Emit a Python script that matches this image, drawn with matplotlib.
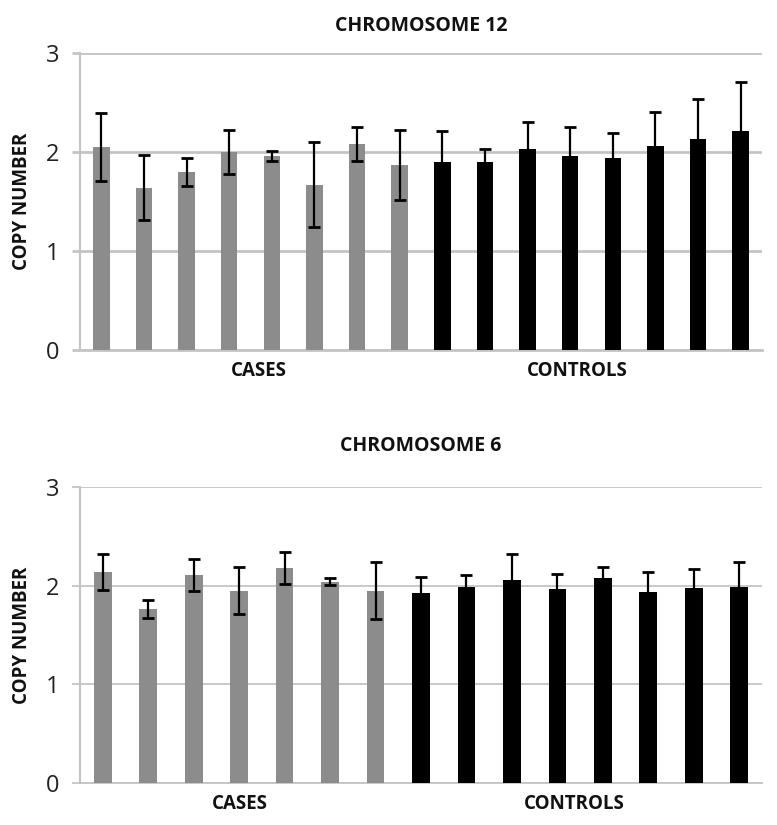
import matplotlib
matplotlib.use("Agg")
import matplotlib.pyplot as plt
import numpy as np

plt.rcParams['font.family'] = ['Open Sans', 'DejaVu Sans']

# ---- data ----
chr12_cases = [2.05, 1.64, 1.80, 2.00, 1.96, 1.67, 2.08, 1.87]
chr12_cases_err = [0.34, 0.33, 0.14, 0.22, 0.055, 0.43, 0.17, 0.35]
chr12_controls = [1.90, 1.90, 2.03, 1.96, 1.94, 2.06, 2.13, 2.21]
chr12_controls_err = [0.31, 0.13, 0.27, 0.29, 0.25, 0.34, 0.41, 0.50]

chr6_cases = [2.14, 1.76, 2.11, 1.95, 2.18, 2.04, 1.95]
chr6_cases_err = [0.185, 0.09, 0.16, 0.24, 0.165, 0.035, 0.285]
chr6_controls = [1.925, 1.99, 2.06, 1.97, 2.08, 1.94, 1.98, 1.99]
chr6_controls_err = [0.16, 0.12, 0.26, 0.15, 0.11, 0.20, 0.19, 0.25]

group_labels = ["CASES", "CONTROLS"]
titles = ["CHROMOSOME 12", "CHROMOSOME 6"]
y_ticks = [0, 1, 2, 3]
y_label = "COPY NUMBER"

W, H = 777, 825
fig = plt.figure(figsize=(W / 100, H / 100), dpi=100)

GRID = "#c4c4c4"
CASE_COLOR = "#8c8c8c"


def draw(rect, cases, cases_err, controls, controls_err, title, label_pos, gridw, tpad):
    ax = fig.add_axes(rect)
    n_cases = len(cases)
    n_ctrl = len(controls)
    x_cases = np.arange(n_cases)
    x_ctrl = np.arange(n_cases, n_cases + n_ctrl)
    ekw = dict(ecolor="black", elinewidth=1.6, capsize=4, capthick=2)
    ax.bar(x_cases, cases, width=0.39, color=CASE_COLOR, yerr=cases_err,
           error_kw=ekw, zorder=3)
    ax.bar(x_ctrl, controls, width=0.39, color="black", yerr=controls_err,
           error_kw=ekw, zorder=3)
    ax.set_xlim(-0.5, n_cases + n_ctrl - 0.5)
    ax.set_ylim(0, 3)
    ax.set_yticks(y_ticks)
    ax.set_yticklabels([str(t) for t in y_ticks], fontsize=17, color="#222222")
    ax.yaxis.grid(True, color=GRID, linewidth=gridw, zorder=0)
    ax.set_axisbelow(True)
    ax.tick_params(axis="y", length=6, width=gridw, color=GRID, pad=9)
    ax.set_xticks(label_pos)
    ax.set_xticklabels(group_labels, fontsize=13.5, fontweight="bold", color="#111111")
    ax.tick_params(axis="x", length=0, pad=8)
    for s in ["top", "right"]:
        ax.spines[s].set_visible(False)
    ax.spines["left"].set_color(GRID)
    ax.spines["left"].set_linewidth(1.5)
    ax.spines["bottom"].set_color(GRID)
    ax.spines["bottom"].set_linewidth(gridw)
    ax.set_ylabel(y_label, fontsize=13.5, fontweight="bold", labelpad=10, color="#111111")
    ax.set_title(title, fontsize=14, fontweight="bold", pad=tpad, color="#111111")
    return ax


ax1 = draw([80 / W, 475 / H, 682 / W, 297 / H], chr12_cases, chr12_cases_err,
           chr12_controls, chr12_controls_err, titles[0], [3.7, 11.17], 2.0, 16)
ax2 = draw([80 / W, 42 / H, 682 / W, 296 / H], chr6_cases, chr6_cases_err,
           chr6_controls, chr6_controls_err, titles[1], [3.02, 10.38], 1.3, 26)

fig.savefig("out.png", dpi=100, facecolor="white")
